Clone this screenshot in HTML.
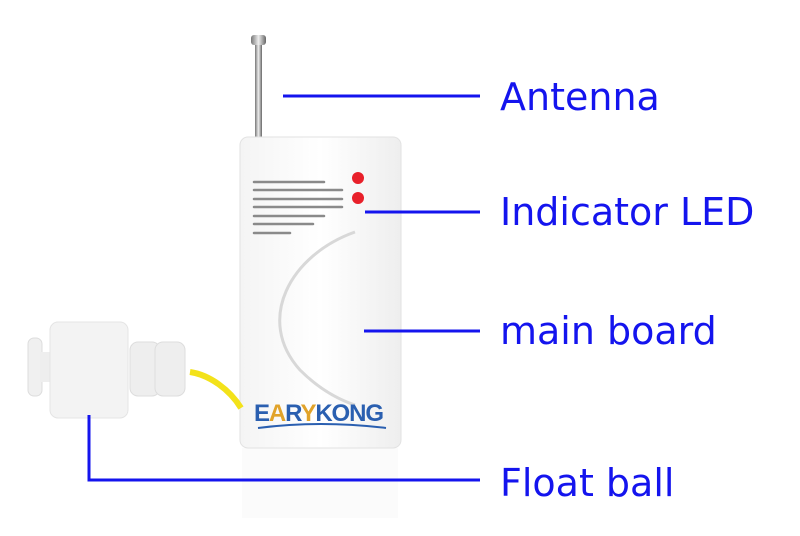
<!DOCTYPE html>
<html><head><style>
body{margin:0;background:#fff;width:800px;height:536px;overflow:hidden;position:relative;font-family:"DejaVu Sans","Liberation Sans",sans-serif}
.t{position:absolute;color:#1414ee;font-size:38px;left:500px;line-height:1}
</style></head><body>
<svg width="800" height="536" style="position:absolute;left:0;top:0">
<defs>
<linearGradient id="ant" x1="0" x2="1"><stop offset="0" stop-color="#777"/><stop offset="0.5" stop-color="#eee"/><stop offset="1" stop-color="#666"/></linearGradient>
<linearGradient id="bd" x1="0" x2="1"><stop offset="0" stop-color="#f4f4f4"/><stop offset="0.5" stop-color="#fff"/><stop offset="1" stop-color="#eee"/></linearGradient>
</defs>
<rect x="242" y="448" width="156" height="70" fill="#fbfbfb"/>
<rect x="251" y="35" width="15" height="10" rx="3" fill="url(#ant)"/>
<rect x="255" y="45" width="7" height="92" fill="url(#ant)"/>
<rect x="240" y="137" width="161" height="311" rx="8" fill="url(#bd)" stroke="#e2e2e2"/>
<g stroke="#8a8a8a" stroke-width="2.5" stroke-linecap="round">
<line x1="254" y1="182" x2="324" y2="182"/><line x1="254" y1="190" x2="342" y2="190"/>
<line x1="254" y1="199" x2="342" y2="199"/><line x1="254" y1="207" x2="342" y2="207"/>
<line x1="254" y1="216" x2="324" y2="216"/><line x1="254" y1="224" x2="313" y2="224"/>
<line x1="254" y1="233" x2="290" y2="233"/>
</g>
<circle cx="358" cy="178" r="6" fill="#e8202a"/><circle cx="358" cy="198" r="6" fill="#e8202a"/>
<path d="M355 232 C290 255 255 320 300 370 C320 390 340 400 355 405" fill="none" stroke="#d8d8d8" stroke-width="3"/>
<path d="M190 372 C210 375 230 390 241 408" fill="none" stroke="#f3e21a" stroke-width="6"/>
<rect x="28" y="338" width="14" height="58" rx="6" fill="#f0f0f0" stroke="#ddd"/>
<rect x="40" y="352" width="14" height="30" fill="#eee"/>
<rect x="50" y="322" width="78" height="96" rx="8" fill="#f3f3f3" stroke="#e4e4e4"/>
<rect x="130" y="342" width="30" height="54" rx="8" fill="#eee" stroke="#ddd"/>
<rect x="155" y="342" width="30" height="54" rx="8" fill="#eee" stroke="#ddd"/>
<text x="254" y="421" font-family="Liberation Sans,sans-serif" font-weight="bold" font-size="24" fill="#2a5fb0" textLength="130">E<tspan fill="#e1a32a">A</tspan>R<tspan fill="#e1a32a">Y</tspan>KONG</text>
<path d="M258 428 Q320 420 386 428" stroke="#2a5fb0" stroke-width="2" fill="none"/>
<g stroke="#1414ee" stroke-width="3" fill="none">
<line x1="283" y1="96" x2="480" y2="96"/>
<line x1="365" y1="212" x2="480" y2="212"/>
<line x1="364" y1="331" x2="480" y2="331"/>
<polyline points="89,415 89,480 480,480"/>
</g>
</svg>
<div class="t" style="top:78px">Antenna</div>
<div class="t" style="top:193px">Indicator LED</div>
<div class="t" style="top:312px">main board</div>
<div class="t" style="top:464px">Float ball</div>
</body></html>
